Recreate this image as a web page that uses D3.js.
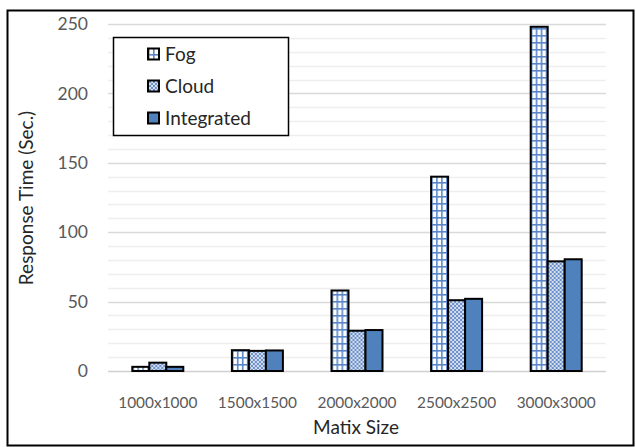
<!DOCTYPE html>
<html>
<head>
<meta charset="utf-8">
<script src="https://cdn.jsdelivr.net/npm/d3@7"></script>
<style>
  html, body { margin: 0; padding: 0; background: #fff; }
  svg { display: block; font-family: Lato, "Open Sans", sans-serif; }
</style>
</head>
<body>
<svg id="chart" width="636" height="447"></svg>
<script>
// Response time per matrix size for three deployment modes
const categories = ["1000x1000", "1500x1500", "2000x2000", "2500x2500", "3000x3000"];
const seriesNames = ["Fog", "Cloud", "Integrated"];
const fogValues = [3, 15, 58, 140, 248];
const cloudValues = [6, 14.5, 29, 51, 79];
const integratedValues = [3, 14.8, 29.5, 52, 80.5];
const yTicks = [0, 50, 100, 150, 200, 250];

const seriesValues = [fogValues, cloudValues, integratedValues];
const rows = categories.map((c, i) => ({
  category: c,
  values: seriesNames.map((s, k) => ({ series: s, value: seriesValues[k][i] }))
}));

const svg = d3.select("#chart");
const margin = { left: 108, right: 30, top: 24, bottom: 76 };
const W = 636, H = 447;

// Fill patterns
const defs = svg.append("defs");
const fog = defs.append("pattern").attr("id", "pat-fog")
  .attr("patternUnits", "userSpaceOnUse").attr("width", 5).attr("height", 7);
fog.append("rect").attr("width", 5).attr("height", 7).attr("fill", "#fff");
fog.append("rect").attr("x", 0).attr("y", 0).attr("width", 1.6).attr("height", 7).attr("fill", "#5a86c8");
fog.append("rect").attr("x", 0).attr("y", 0).attr("width", 5).attr("height", 1.6).attr("fill", "#5a86c8");

const cloud = defs.append("pattern").attr("id", "pat-cloud")
  .attr("patternUnits", "userSpaceOnUse").attr("width", 4).attr("height", 4);
cloud.append("rect").attr("width", 4).attr("height", 4).attr("fill", "#7e9fd2");
[[0, 0], [4, 0], [0, 4], [4, 4], [2, 2]].forEach(([cx, cy]) =>
  cloud.append("circle").attr("cx", cx).attr("cy", cy).attr("r", 1.0).attr("fill", "#eef2fa"));
[[2, 0], [0, 2], [4, 2], [2, 4]].forEach(([cx, cy]) =>
  cloud.append("circle").attr("cx", cx).attr("cy", cy).attr("r", 0.7).attr("fill", "#4b76b8"));

const fills = { Fog: "url(#pat-fog)", Cloud: "url(#pat-cloud)", Integrated: "#4f81bd" };

// Scales
const x0 = d3.scaleBand().domain(categories)
  .range([margin.left, W - margin.right])
  .paddingInner(0.488).paddingOuter(0.244);
const x1 = d3.scaleBand().domain(seriesNames).range([0, x0.bandwidth()]);
const y = d3.scaleLinear().domain([0, 250]).range([H - margin.bottom, margin.top]);

// Gridlines: minor every 10, major every 50
const gridVals = d3.range(10, 251, 10);
svg.append("g").selectAll("line").data(gridVals).join("line")
  .attr("x1", margin.left).attr("x2", W - margin.right)
  .attr("y1", d => Math.round(y(d)) + 0.5).attr("y2", d => Math.round(y(d)) + 0.5)
  .attr("stroke", d => d % 50 === 0 ? "#d9d9d9" : "#eeeeee")
  .attr("stroke-width", 1.3);

// Baseline axis
svg.append("line")
  .attr("x1", margin.left).attr("x2", W - margin.right)
  .attr("y1", y(0) + 0.5).attr("y2", y(0) + 0.5)
  .attr("stroke", "#d0d0d0").attr("stroke-width", 1.5);

// Y axis labels
const yAxis = d3.axisLeft(y).tickValues(yTicks).tickSize(0).tickPadding(20);
const gy = svg.append("g").attr("transform", `translate(${margin.left},0)`).call(yAxis);
gy.select(".domain").remove();
gy.selectAll("text").attr("fill", "#595959").attr("font-size", 17.5)
  .attr("font-family", "Lato, sans-serif");

// X axis labels
const xAxis = d3.axisBottom(x0).tickSize(0).tickPadding(26);
const gx = svg.append("g").attr("transform", `translate(0,${y(0)})`).call(xAxis);
gx.select(".domain").remove();
gx.selectAll("text").attr("fill", "#595959").attr("font-size", 15.4)
  .attr("font-family", "Lato, sans-serif");

// Bars
const groups = svg.append("g").selectAll("g").data(rows).join("g")
  .attr("transform", d => `translate(${x0(d.category)},0)`);
groups.selectAll("rect").data(d => d.values).join("rect")
  .attr("x", d => x1(d.series))
  .attr("y", d => y(d.value))
  .attr("width", x1.bandwidth())
  .attr("height", d => y(0) - y(d.value))
  .attr("fill", d => fills[d.series])
  .attr("stroke", "#000")
  .attr("stroke-width", 2);

// Axis titles
svg.append("text")
  .attr("x", (margin.left + W - margin.right) / 2 - 1).attr("y", 434)
  .attr("text-anchor", "middle").attr("font-size", 19).attr("fill", "#262626")
  .text("Matix Size");
svg.append("text")
  .attr("transform", `translate(33,${198}) rotate(-90)`)
  .attr("text-anchor", "middle").attr("font-size", 19).attr("fill", "#262626")
  .text("Response Time (Sec.)");

// Legend
const legend = svg.append("g");
legend.append("rect")
  .attr("x", 113.5).attr("y", 37.5).attr("width", 175).attr("height", 98)
  .attr("fill", "#fff").attr("stroke", "#000").attr("stroke-width", 1.5);
const li = legend.selectAll("g").data(seriesNames).join("g")
  .attr("transform", (d, i) => `translate(148,${54 + i * 32})`);
li.append("rect").attr("x", 0).attr("y", -5.5).attr("width", 11).attr("height", 11)
  .attr("fill", d => fills[d]).attr("stroke", "#000").attr("stroke-width", 2);
li.append("text").attr("x", 17).attr("y", 0).attr("dy", "0.35em")
  .attr("font-size", 19).attr("fill", "#262626").text(d => d);

// Outer frame
svg.append("rect").attr("x", 7.5).attr("y", 10.5).attr("width", 626).attr("height", 435)
  .attr("fill", "none").attr("stroke", "#000").attr("stroke-width", 2);
</script>
</body>
</html>
